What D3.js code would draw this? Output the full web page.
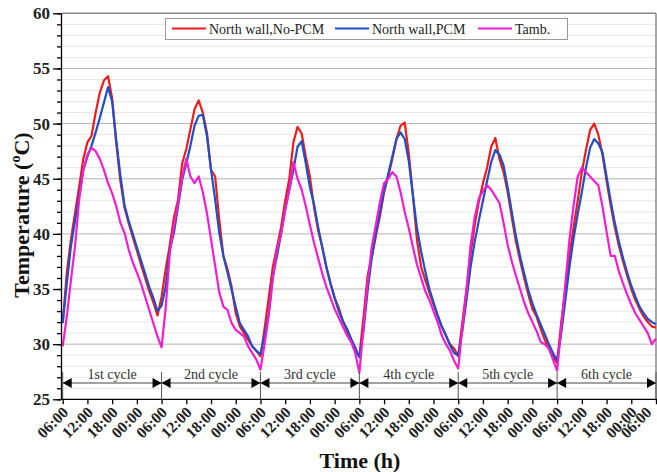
<!DOCTYPE html>
<html>
<head>
<meta charset="utf-8">
<script src="https://cdn.jsdelivr.net/npm/d3@7"></script>
<style>
    body { margin: 0; background: #fff; }
    svg text { font-family: "Liberation Serif", "Times New Roman", serif; }
</style>
</head>
<body>
<svg id="chart" width="657" height="472"></svg>
<script>
// hourly readings, 06:00 day 1 -> 06:00 day 7 (145 values each)
const noPcm = [
    31.9, 36.5, 39.5, 41.9, 44.3, 46.8, 48.3, 48.9, 51.0, 52.8, 53.9, 54.3, 52.3, 48.2, 44.8, 42.4, 41.0, 39.7, 38.5, 37.2, 36.0, 34.8, 33.8, 32.6,
    34.3, 36.8, 39.0, 41.5, 43.1, 46.4, 47.7, 49.5, 51.3, 52.1, 51.0, 49.2, 45.8, 45.2, 41.3, 38.0, 36.8, 35.2, 32.8, 31.6, 31.0, 30.4, 29.8, 29.4,
    28.9, 31.4, 34.2, 37.0, 38.8, 40.6, 43.0, 45.0, 48.3, 49.7, 49.1, 47.0, 45.2, 42.4, 40.3, 38.8, 37.0, 35.5, 34.2, 33.3, 32.1, 31.2, 30.3, 29.4,
    28.9, 32.4, 36.2, 37.9, 39.8, 41.6, 43.8, 45.2, 46.8, 48.6, 49.8, 50.1, 47.3, 43.5, 39.4, 37.0, 35.8, 34.7, 33.6, 32.6, 31.6, 30.8, 30.0, 29.6,
    28.9, 32.0, 35.0, 38.2, 40.8, 42.9, 44.6, 46.0, 47.9, 48.7, 46.8, 45.6, 43.8, 41.5, 39.3, 37.6, 36.0, 34.5, 33.2, 32.5, 31.4, 30.4, 29.6, 28.9,
    28.3, 32.0, 35.0, 38.0, 40.6, 43.0, 45.6, 47.6, 49.4, 50.0, 49.0, 47.2, 44.8, 42.6, 40.6, 38.9, 37.5, 36.2, 35.0, 34.0, 33.2, 32.5, 32.0, 31.6,
    31.5
];
const withPcm = [
    31.9, 35.5, 38.9, 41.2, 43.5, 45.8, 47.0, 48.0, 49.2, 50.5, 51.9, 53.3, 52.0, 48.5, 45.3, 42.6, 41.2, 40.0, 38.8, 37.6, 36.4, 35.2, 34.2, 33.0,
    33.5, 35.2, 38.6, 40.1, 42.5, 44.9, 46.4, 48.0, 49.8, 50.7, 50.8, 48.9, 45.8, 43.1, 40.1, 38.0, 36.5, 34.9, 33.4, 31.9, 31.3, 30.7, 29.8, 29.4,
    29.1, 30.8, 32.7, 36.1, 38.0, 40.0, 42.2, 44.0, 45.8, 47.9, 48.4, 46.4, 44.2, 42.7, 40.6, 38.8, 37.0, 35.5, 34.2, 33.0, 32.1, 31.4, 30.5, 29.7,
    28.8, 31.2, 34.8, 37.8, 40.0, 42.0, 43.9, 45.4, 47.0, 48.6, 49.2, 48.6, 46.6, 43.5, 40.5, 38.4, 36.6, 35.0, 33.8, 32.6, 31.6, 30.8, 29.9, 29.2,
    29.0, 31.2, 34.0, 37.0, 39.3, 41.2, 43.0, 44.8, 46.5, 47.6, 47.2, 46.2, 44.2, 42.0, 39.8, 38.0, 36.4, 34.9, 33.7, 32.7, 31.8, 30.9, 30.0, 29.2,
    28.5, 31.0, 34.0, 37.0, 39.6, 41.8, 43.8, 46.0, 47.8, 48.6, 48.2, 47.4, 45.2, 43.0, 41.0, 39.3, 37.8, 36.5, 35.3, 34.3, 33.4, 32.8, 32.3, 32.0,
    31.8
];
const tAmb = [
    29.8, 32.5, 35.8, 38.9, 43.1, 45.8, 47.2, 47.8, 47.5, 46.8, 45.8, 44.6, 43.7, 42.5, 41.0, 40.1, 38.6, 37.4, 36.5, 35.5, 34.3, 33.1, 31.9, 30.7,
    29.7, 33.3, 38.3, 40.7, 42.8, 45.2, 46.8, 45.2, 44.6, 45.2, 43.8, 41.9, 39.5, 37.1, 34.7, 33.4, 33.1, 31.9, 31.3, 31.0, 30.7, 29.8, 29.2, 28.6,
    27.7, 30.0, 32.6, 36.0, 38.6, 40.0, 42.2, 44.0, 46.5, 45.0, 44.0, 42.5, 40.8, 39.2, 37.8, 36.4, 35.2, 34.2, 33.2, 32.4, 31.6, 30.8, 30.2, 29.2,
    27.4, 31.5, 35.5, 38.8, 40.8, 42.9, 44.6, 45.0, 45.6, 45.2, 43.8, 42.0, 40.5, 38.8, 37.2, 36.0, 34.8, 34.0, 33.0, 32.0, 30.8, 30.0, 29.4, 28.5,
    27.8, 31.5, 34.8, 39.0, 41.5, 43.2, 43.9, 44.4, 44.0, 43.4, 42.8, 41.0, 39.0, 37.5, 36.2, 35.0, 33.8, 32.8, 32.0, 31.2, 30.2, 30.0, 29.6, 28.6,
    27.6, 31.5, 35.5, 39.5, 42.6, 45.2, 46.0, 45.6, 45.2, 44.8, 44.4, 42.5, 40.2, 38.0, 38.0, 36.6, 35.5, 34.5, 33.6, 32.8, 32.2, 31.6, 31.0, 30.0,
    30.5
];
const hours = d3.range(0, 145);
const tickHours = d3.range(0, 145, 6);
const tickLabels = ["06:00", "12:00", "18:00", "00:00"];
const cycleNames = ["1st cycle", "2nd cycle", "3rd cycle", "4th cycle", "5th cycle", "6th cycle"];
const seriesNames = ["North wall,No-PCM", "North wall,PCM", "Tamb."];
const seriesColors = ["#ec1c1c", "#1f4ec8", "#f01ed2"];

const svg = d3.select('#chart');
const plotLeft = 61, plotRight = 656, plotTop = 13, plotBottom = 399.3;

const x = d3.scaleLinear().domain([0, 144]).range([62.7, 656]);
const y = d3.scaleLinear().domain([25, 60]).range([plotBottom, 13.3]);

// minor + major grid
svg.append('g').selectAll('line')
    .data(d3.range(26, 60).filter(v => v % 5 !== 0))
    .enter().append('line')
    .attr('x1', plotLeft).attr('x2', plotRight)
    .attr('y1', d => y(d)).attr('y2', d => y(d))
    .attr('stroke', '#e6e6e6').attr('stroke-width', 1);

svg.append('g').selectAll('line')
    .data(d3.range(30, 60, 5))
    .enter().append('line')
    .attr('x1', plotLeft).attr('x2', plotRight)
    .attr('y1', d => y(d)).attr('y2', d => y(d))
    .attr('stroke', '#b4b4b4').attr('stroke-width', 1);

// frame top/right
svg.append('line').attr('x1', plotLeft).attr('x2', plotRight).attr('y1', y(60)).attr('y2', y(60))
    .attr('stroke', '#8a8a8a').attr('stroke-width', 1.5);
svg.append('line').attr('x1', plotRight).attr('x2', plotRight).attr('y1', y(60)).attr('y2', plotBottom)
    .attr('stroke', '#8a8a8a').attr('stroke-width', 1.5);

// series
svg.append('clipPath').attr('id', 'plotClip')
    .append('rect').attr('x', plotLeft).attr('y', plotTop)
    .attr('width', plotRight - plotLeft + 2).attr('height', plotBottom - plotTop);

const line = d3.line().x((d, i) => x(hours[i])).y(d => y(d));
const plot = svg.append('g').attr('clip-path', 'url(#plotClip)');
[noPcm, withPcm, tAmb].forEach((vals, k) => {
    plot.append('path')
        .datum(vals)
        .attr('d', line)
        .attr('fill', 'none')
        .attr('stroke', seriesColors[k])
        .attr('stroke-width', 2.2)
        .attr('stroke-linejoin', 'round');
});

// cycle annotations
const arrowY = 383;
const ann = svg.append('g');
d3.range(0, 7).forEach(i => {
    ann.append('line')
        .attr('x1', x(i * 24)).attr('x2', x(i * 24))
        .attr('y1', 372).attr('y2', plotBottom)
        .attr('stroke', '#555').attr('stroke-width', 1);
});
cycleNames.forEach((name, i) => {
    const xs = x(i * 24), xe = x((i + 1) * 24);
    ann.append('line')
        .attr('x1', xs).attr('x2', xe).attr('y1', arrowY).attr('y2', arrowY)
        .attr('stroke', '#444').attr('stroke-width', 1);
    ann.append('path')
        .attr('d', `M${xs},${arrowY}L${xs + 9},${arrowY - 5}L${xs + 9},${arrowY + 5}Z`)
        .attr('fill', '#000');
    ann.append('path')
        .attr('d', `M${xe},${arrowY}L${xe - 9},${arrowY - 5}L${xe - 9},${arrowY + 5}Z`)
        .attr('fill', '#000');
    ann.append('text')
        .attr('x', (xs + xe) / 2).attr('y', 379)
        .attr('text-anchor', 'middle')
        .attr('font-size', 14)
        .attr('fill', '#333')
        .text(name);
});

// y axis
const yAxis = svg.append('g').attr('transform', `translate(${plotLeft},0)`);
yAxis.call(d3.axisLeft(y).tickValues(d3.range(25, 61, 5)).tickSize(8).tickSizeOuter(0));
yAxis.append('g').call(d3.axisLeft(y).tickValues(d3.range(25, 61)).tickSize(4).tickFormat(''))
    .select('.domain').remove();
yAxis.selectAll('path, line').attr('stroke', '#000').attr('stroke-width', 1.3);
yAxis.selectAll('text')
    .attr('font-size', 17).attr('font-weight', 'bold')
    .attr('font-family', '"Liberation Serif", serif')
    .attr('fill', '#222');

// x axis
const xAxis = svg.append('g').attr('transform', `translate(0,${plotBottom})`);
xAxis.call(d3.axisBottom(x).tickValues(tickHours).tickSize(5).tickSizeOuter(0)
    .tickFormat((d, i) => tickLabels[i % 4]));
xAxis.select('.domain').attr('d', `M${plotLeft},0H657`);
xAxis.selectAll('path, line').attr('stroke', '#000').attr('stroke-width', 1.3);
xAxis.selectAll('text')
    .attr('x', 0).attr('y', 0).attr('dy', 0)
    .attr('transform', (d, i) => i === tickHours.length - 1
        ? 'translate(-4,14) rotate(-45)' : 'translate(6,14) rotate(-45)')
    .style('text-anchor', 'end')
    .attr('font-size', 15.5).attr('font-weight', 'bold')
    .attr('font-family', '"Liberation Serif", serif')
    .attr('fill', '#222');

// axis titles
svg.append('text')
    .attr('x', 360).attr('y', 468)
    .attr('text-anchor', 'middle')
    .attr('font-size', 22).attr('font-weight', 'bold')
    .attr('fill', '#111')
    .text('Time (h)');

const yTitle = svg.append('text')
    .attr('transform', 'translate(29,215) rotate(-90)')
    .attr('text-anchor', 'middle')
    .attr('font-size', 22).attr('font-weight', 'bold')
    .attr('fill', '#111');
yTitle.append('tspan').text('Temperature (');
yTitle.append('tspan').attr('font-size', 14).attr('dy', -9).text('o');
yTitle.append('tspan').attr('dy', 9).text('C)');

// legend
const legend = svg.append('g');
legend.append('rect')
    .attr('x', 165.5).attr('y', 18.5).attr('width', 402).attr('height', 21)
    .attr('fill', '#fff').attr('stroke', '#999').attr('stroke-width', 1);
const legendX = [172, 335, 478];
seriesNames.forEach((name, k) => {
    legend.append('line')
        .attr('x1', legendX[k]).attr('x2', legendX[k] + 34)
        .attr('y1', 28.5).attr('y2', 28.5)
        .attr('stroke', seriesColors[k]).attr('stroke-width', 2);
    legend.append('text')
        .attr('x', legendX[k] + 37).attr('y', 33.5)
        .attr('font-size', 14).attr('fill', '#222')
        .text(name);
});
</script>
</body>
</html>
